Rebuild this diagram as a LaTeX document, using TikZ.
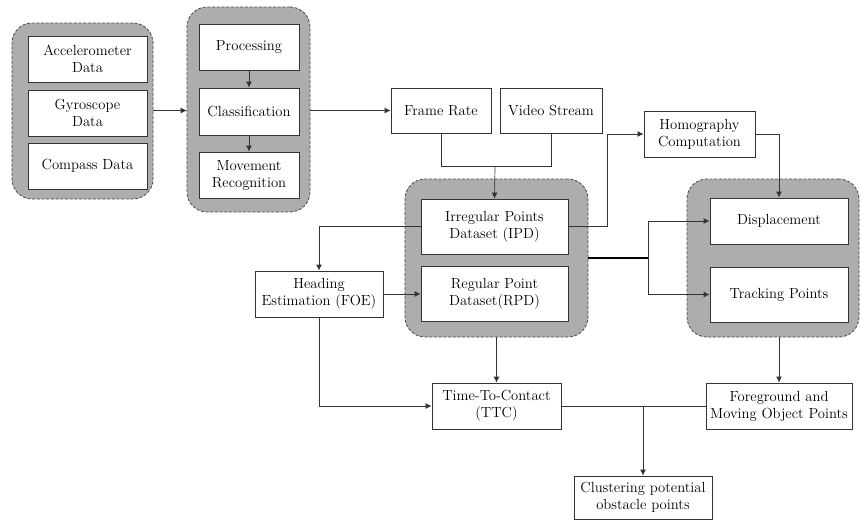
\documentclass[tikz,border=0pt]{standalone}
\usepackage{xcolor}
\usepackage{tikz}
\usetikzlibrary{shapes,arrows.meta,calc,positioning}
\tikzset{
  box/.style={draw=black!80, line width=0.8pt, fill=white, align=center, inner sep=2pt, font=\fontsize{12.5}{14.5}\selectfont},
  grp/.style={draw=black!70, dash pattern=on 2.5pt off 1.5pt, line width=0.7pt, fill=black!32, rounded corners=0.6cm, inner sep=0pt},
  arr/.style={draw=black!80, line width=0.6pt, -{Latex[length=5pt,width=5pt]}},
  wire/.style={draw=black!80, line width=0.6pt}
}

\begin{document}
\begin{tikzpicture}[x=0.03cm,y=-0.03cm]
  \useasboundingbox (0,0) rectangle (861,521);

  % shaded groups
  \node[grp, minimum width=4.23cm, minimum height=5.28cm] (sensors) at (82.5,111) {};
  \node[grp, minimum width=3.69cm, minimum height=6.15cm] (motion) at (248.5,109.5) {};
  \node[grp, minimum width=5.49cm, minimum height=4.74cm] (points) at (496.5,258) {};
  \node[grp, minimum width=5.16cm, minimum height=4.74cm] (trackgrp) at (773,258) {};

  % sensor data
  \node[box, minimum width=3.57cm, minimum height=1.38cm] (accel) at (87.5,59) {Accelerometer\\Data};
  \node[box, minimum width=3.57cm, minimum height=1.38cm] (gyro) at (87.5,113) {Gyroscope\\Data};
  \node[box, minimum width=3.57cm, minimum height=1.38cm] (compass) at (87.5,166) {Compass Data};

  % motion
  \node[box, minimum width=3cm, minimum height=1.38cm] (proc) at (249,47) {Processing};
  \node[box, minimum width=3cm, minimum height=1.41cm] (classif) at (249,111.5) {Classification};
  \node[box, minimum width=3cm, minimum height=1.38cm] (movement) at (249,175) {Movement\\Recognition};

  % video
  \node[box, minimum width=3cm, minimum height=1.35cm] (frame) at (441,110.5) {Frame Rate};
  \node[box, minimum width=3.06cm, minimum height=1.35cm] (video) at (551,110.5) {Video Stream};
  \node[box, minimum width=3.33cm, minimum height=1.38cm] (homog) at (699.5,134) {Homography\\Computation};

  % point sets
  \node[box, minimum width=4.41cm, minimum height=1.65cm] (ipd) at (494.5,226.5) {Irregular Points\\Dataset (IPD)};
  \node[box, minimum width=4.41cm, minimum height=1.65cm] (rpd) at (494.5,293.5) {Regular Point\\Dataset(RPD)};
  \node[box, minimum width=3.84cm, minimum height=1.38cm] (heading) at (319,294) {Heading\\Estimation (FOE)};

  % tracking
  \node[box, minimum width=4.14cm, minimum height=1.38cm] (disp) at (779,221) {Displacement};
  \node[box, minimum width=4.14cm, minimum height=1.65cm] (track) at (779,294.5) {Tracking Points};

  % results
  \node[box, minimum width=3.87cm, minimum height=1.38cm] (ttc) at (496.5,406) {Time-To-Contact\\(TTC)};
  \node[box, minimum width=4.38cm, minimum height=1.38cm] (fg) at (779,406) {Foreground and\\Moving Object Points};
  \node[box, minimum width=4.14cm, minimum height=1.29cm] (clust) at (643,497.5) {Clustering potential\\obstacle points};

  \coordinate (join) at (495,166);
  \coordinate (split) at (648,258);

  % connectors
  \draw[arr] (proc.south) -- (classif.north);
  \draw[arr] (classif.south) -- (movement.north);
  \draw[arr] (sensors.east |- frame) -- (motion.west |- frame);
  \draw[arr] (motion.east |- frame) -- (frame.west);
  \draw[wire] (frame.south) |- (video.south |- join) -- (video.south);
  \draw[arr] (join) -- (ipd.north);
  \draw[arr] (ipd.east) -- ++(39,0) |- (homog.west);
  \draw[arr] (homog.east) -| (disp.north);
  \draw[black, line width=1pt] (points.east) -- (split);
  \draw[arr] (split) |- (disp.west);
  \draw[arr] (split) |- (track.west);
  \draw[arr] (ipd.west) -| (heading.north);
  \draw[arr] (heading.east) -- (rpd.west |- heading.east);
  \draw[arr] (points.south) -- (ttc.north);
  \draw[arr] (heading.south) |- (ttc.west);
  \draw[arr] (fg.north |- trackgrp.south) -- (fg.north);
  \draw[wire] (ttc.east) -- (fg.west);
  \draw[arr] (clust.north |- ttc.east) -- (clust.north);
\end{tikzpicture}
\end{document}
